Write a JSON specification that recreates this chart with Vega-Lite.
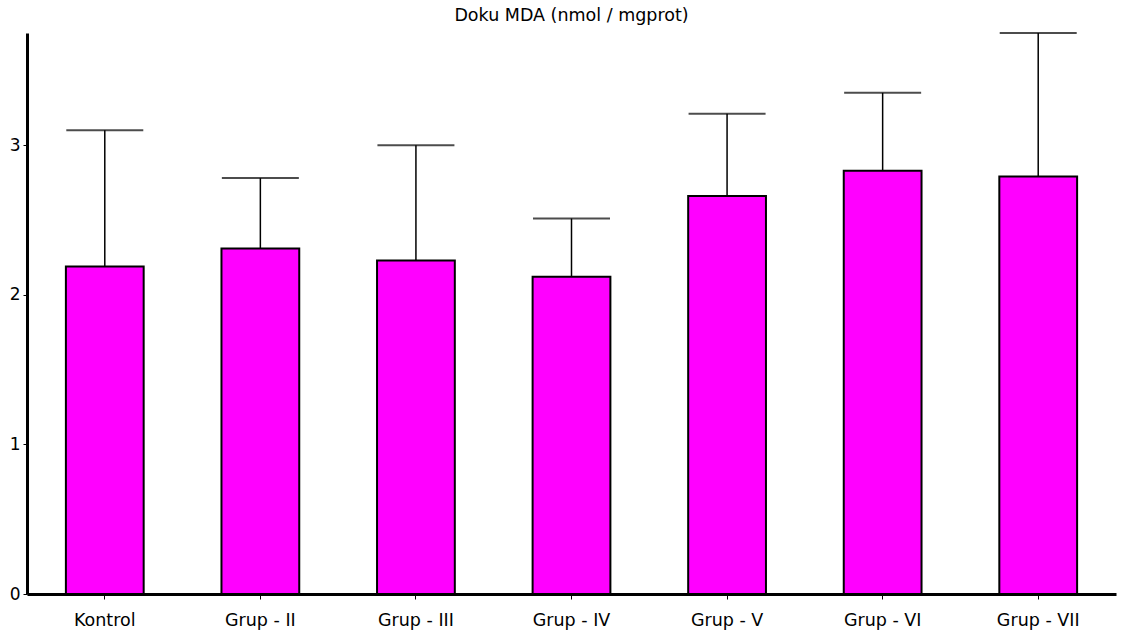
{
  "$schema": "https://vega.github.io/schema/vega-lite/v6.json",
  "width": 1089,
  "height": 561,
  "autosize": "none",
  "padding": {"left": 27, "top": 33, "right": 7, "bottom": 45},
  "title": {"text": "Doku MDA (nmol / mgprot)", "font": "DejaVu Sans", "fontSize": 17.5, "fontWeight": "normal", "color": "black", "offset": 8, "anchor": "middle"},
  "data": {"values": [
    {"group": "Kontrol", "mean": 2.19, "upper": 3.10},
    {"group": "Grup - II", "mean": 2.31, "upper": 2.78},
    {"group": "Grup - III", "mean": 2.23, "upper": 3.00},
    {"group": "Grup - IV", "mean": 2.12, "upper": 2.51},
    {"group": "Grup - V", "mean": 2.66, "upper": 3.21},
    {"group": "Grup - VI", "mean": 2.83, "upper": 3.35},
    {"group": "Grup - VII", "mean": 2.79, "upper": 3.75}
  ]},
  "config": {"view": {"stroke": null}},
  "encoding": {
    "x": {"field": "group", "type": "nominal", "sort": null,
      "scale": {"paddingInner": 0, "paddingOuter": 0},
      "axis": {"title": null, "labelAngle": 0, "labelFont": "DejaVu Sans", "labelFontSize": 17.5, "labelColor": "black", "domainColor": "black", "domainWidth": 3, "tickColor": "black", "tickSize": 5, "tickWidth": 1, "labelPadding": 12}}
  },
  "layer": [
    {"mark": {"type": "bar", "fill": "#FF00FF", "stroke": "black", "strokeWidth": 2, "width": {"band": 0.5}},
     "encoding": {"y": {"field": "mean", "type": "quantitative",
       "scale": {"domain": [0, 3.75], "nice": false, "zero": true},
       "axis": {"title": null, "values": [0, 1, 2, 3], "format": "d", "grid": false, "labelFont": "DejaVu Sans", "labelFontSize": 17, "labelColor": "black", "domainColor": "black", "domainWidth": 3, "tickColor": "black", "tickSize": 4, "tickWidth": 1, "labelPadding": 3}}}},
    {"mark": {"type": "rule", "color": "black", "strokeWidth": 1.5},
     "encoding": {"y": {"field": "mean", "type": "quantitative"}, "y2": {"field": "upper"}}},
    {"mark": {"type": "tick", "color": "black", "thickness": 2, "size": 77},
     "encoding": {"y": {"field": "upper", "type": "quantitative"}}}
  ]
}
